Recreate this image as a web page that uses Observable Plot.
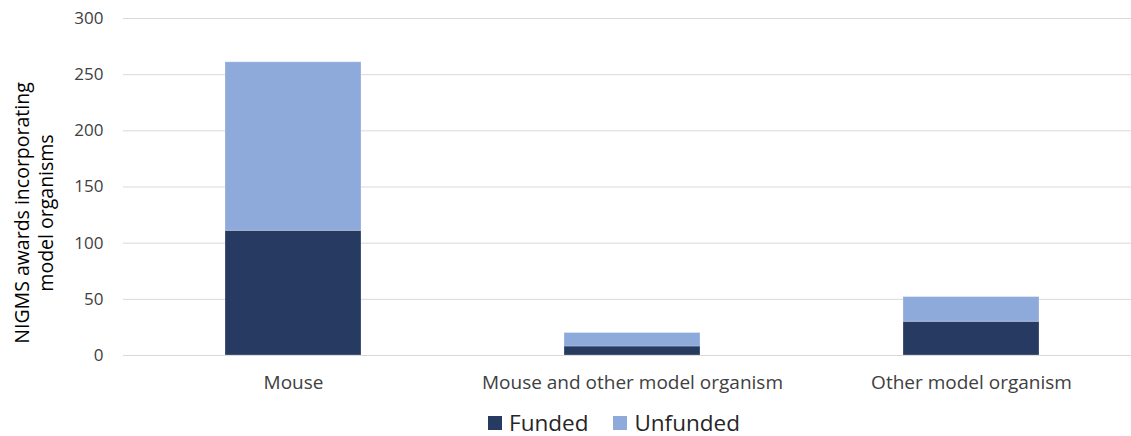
<!DOCTYPE html>
<html>
<head>
<meta charset="utf-8">
<script src="https://cdn.jsdelivr.net/npm/d3@7"></script>
<script src="https://cdn.jsdelivr.net/npm/@observablehq/plot@0.6"></script>
<style>
  body { margin: 0; background: #fff; font-family: "Open Sans", sans-serif; }
  #chart { width: 1131px; }
  .legend { display: flex; justify-content: center; align-items: center; gap: 25px; font-size: 22.5px; color: #262626; margin-top: 7px; padding-left: 97px; }
  .legend span.item { display: flex; align-items: center; gap: 7px; }
  .legend span.sw { width: 14px; height: 14px; display: inline-block; }
</style>
</head>
<body>
<div id="chart"></div>
<script>
const categories = ["Mouse", "Mouse and other model organism", "Other model organism"];
const funded = [111, 8, 30];
const unfunded = [150, 12, 22];
const seriesNames = ["Funded", "Unfunded"];
const seriesColors = ["#273a62", "#8eaadb"];
const yTicks = [0, 50, 100, 150, 200, 250, 300];
const yTitle = "NIGMS awards incorporating\nmodel organisms";

const rows = [];
categories.forEach((c, i) => {
  rows.push({category: c, series: "Funded", value: funded[i]});
  rows.push({category: c, series: "Unfunded", value: unfunded[i]});
});

const plot = Plot.plot({
  width: 1131,
  height: 400,
  marginLeft: 123,
  marginRight: 0,
  marginTop: 18,
  marginBottom: 45,
  style: { fontFamily: "Open Sans, sans-serif", fontSize: "17px", color: "#404040", overflow: "visible" },
  x: { domain: categories, range: [123, 1141], paddingInner: 0.6, paddingOuter: 0.3, label: null },
  y: { domain: [0, 300], ticks: yTicks, label: null },
  color: { domain: seriesNames, range: seriesColors },
  marks: [
    Plot.ruleY(yTicks, { stroke: "#d9d9d9", strokeWidth: 1 }),
    Plot.barY(rows, Plot.stackY({ x: "category", y: "value", fill: "series", order: seriesNames, stroke: "#ffffff", strokeOpacity: 0.25, strokeWidth: 1 })),
    Plot.axisY({ ticks: yTicks, tickSize: 0, tickPadding: 20, fontSize: 17, label: null }),
    Plot.axisX({ tickSize: 0, tickPadding: 20, fontSize: 19, label: null }),
    Plot.text([yTitle], { frameAnchor: "left", rotate: -90, dx: -90, dy: 26, lineAnchor: "middle", textAnchor: "middle", lineHeight: 1.2, fontSize: 19.5, fill: "#000" })
  ]
});
document.getElementById("chart").appendChild(plot);

const legend = document.createElement("div");
legend.className = "legend";
seriesNames.forEach((s, i) => {
  const item = document.createElement("span");
  item.className = "item";
  const sw = document.createElement("span");
  sw.className = "sw";
  sw.style.background = seriesColors[i];
  const t = document.createElement("span");
  t.textContent = s;
  item.appendChild(sw);
  item.appendChild(t);
  legend.appendChild(item);
});
document.getElementById("chart").appendChild(legend);
</script>
</body>
</html>
